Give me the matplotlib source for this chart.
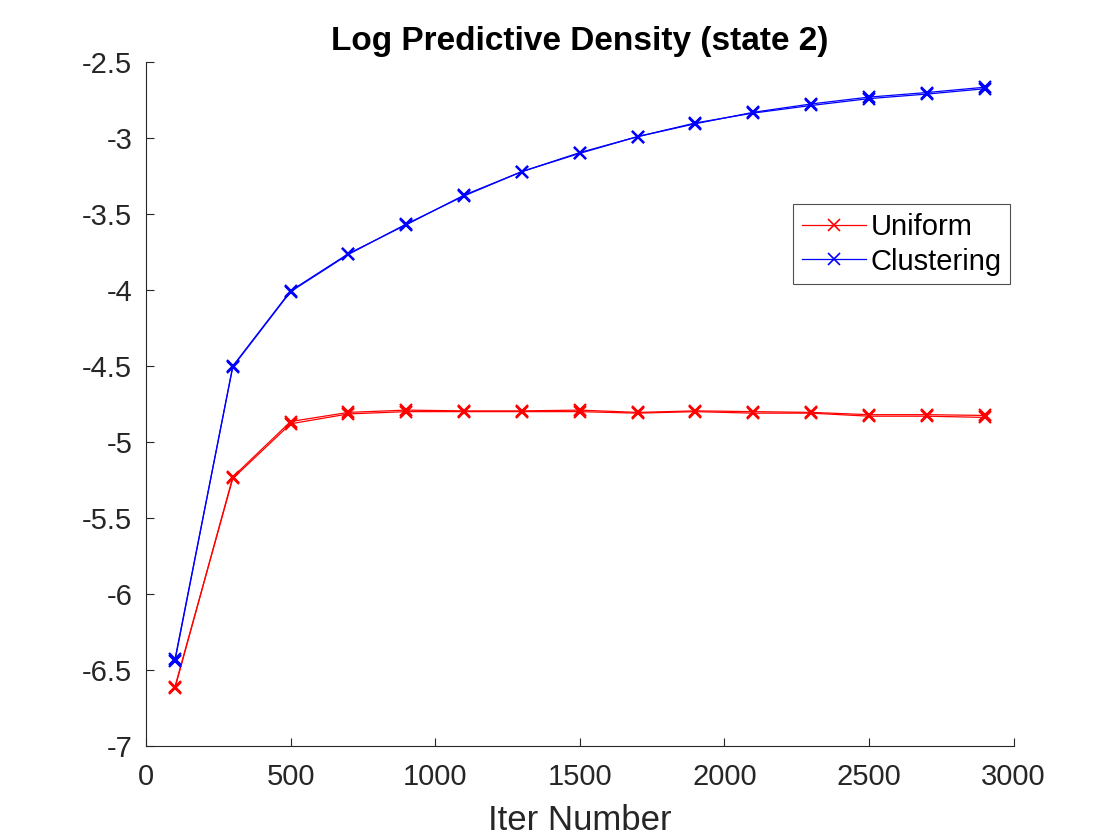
import matplotlib

matplotlib.use("Agg")

import matplotlib.pyplot as plt

plt.rcParams["font.family"] = ["Liberation Sans", "DejaVu Sans"]

iters = [100, 300, 500, 700, 900, 1100, 1300, 1500, 1700, 1900, 2100, 2300, 2500, 2700, 2900]

# two runs per method, drawn as near-overlapping lines
uniform_a = [-6.62, -5.23, -4.865, -4.805, -4.79, -4.795, -4.795, -4.79, -4.805, -4.795,
             -4.80, -4.805, -4.82, -4.82, -4.825]
uniform_b = [-6.61, -5.24, -4.88, -4.815, -4.80, -4.80, -4.80, -4.80, -4.81, -4.80,
             -4.81, -4.81, -4.83, -4.83, -4.838]
cluster_a = [-6.44, -4.50, -4.005, -3.76, -3.57, -3.375, -3.22, -3.095, -2.99, -2.905,
             -2.83, -2.775, -2.73, -2.70, -2.665]
cluster_b = [-6.43, -4.505, -4.01, -3.765, -3.565, -3.38, -3.22, -3.10, -2.99, -2.90,
             -2.835, -2.785, -2.74, -2.71, -2.675]

fig = plt.figure(figsize=(11.2, 8.4), dpi=100, facecolor="white")
ax = fig.add_axes([0.1304, 0.112, 0.7746, 0.814])

style = dict(marker="x", lw=0.9, ms=9, mew=1.6)
ax.plot(iters, uniform_a, color="#ff0000", label="Uniform", **style)
ax.plot(iters, uniform_b, color="#ff0000", **style)
ax.plot(iters, cluster_a, color="#0000ff", label="Clustering", **style)
ax.plot(iters, cluster_b, color="#0000ff", **style)

ax.set_xlim(0, 3000)
ax.set_ylim(-7, -2.5)
ax.set_xticks([0, 500, 1000, 1500, 2000, 2500, 3000])
ax.set_yticks([-7, -6.5, -6, -5.5, -5, -4.5, -4, -3.5, -3, -2.5])
ax.set_yticklabels(["-7", "-6.5", "-6", "-5.5", "-5", "-4.5", "-4", "-3.5", "-3", "-2.5"])

for side in ("top", "right"):
    ax.spines[side].set_visible(False)
for side in ("left", "bottom"):
    ax.spines[side].set_linewidth(0.8)
    ax.spines[side].set_color("#262626")
ax.tick_params(direction="in", length=6, width=0.8, labelsize=21, colors="#262626")
ax.tick_params(axis="y", pad=10)
ax.tick_params(axis="x", pad=12)

ax.set_title("Log Predictive Density (state 2)", fontsize=24, fontweight="bold", pad=9)
ax.set_xlabel("Iter Number", fontsize=25, color="#262626", labelpad=10)

leg = ax.legend(loc="upper right", bbox_to_anchor=(0.996, 0.792), fontsize=21,
                numpoints=1, frameon=True, fancybox=False, borderpad=0.3,
                handlelength=2.2, handletextpad=0.15, labelspacing=0.22,
                borderaxespad=0)
leg.get_frame().set_edgecolor("#262626")
leg.get_frame().set_linewidth(0.8)
for h in leg.legend_handles:
    h.set_markersize(8)
    h.set_markeredgewidth(1.2)

fig.savefig("out.png", dpi=100)
